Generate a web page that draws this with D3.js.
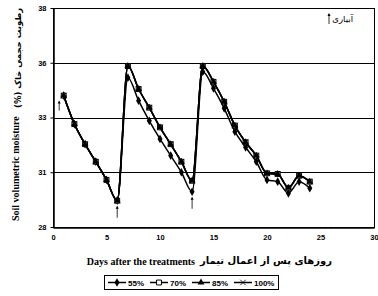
<!DOCTYPE html>
<html><head><meta charset="utf-8">
<script src="https://cdn.jsdelivr.net/npm/d3@7"></script>
<style>body{margin:0;background:#fff}svg{display:block}</style>
</head><body>
<svg id="c" width="378" height="296"></svg>
<script>
const days = [1,2,3,4,5,6,7,8,9,10,11,12,13,14,15,16,17,18,19,20,21,22,23,24];
const s55  = [34.0,32.7,31.78,30.98,30.15,29.2,34.82,33.77,32.85,32.02,31.26,30.5,29.61,35.09,34.33,33.42,32.35,31.64,30.98,30.15,30.07,29.54,30.07,29.77];
const s70  = [34.0,32.7,31.78,30.98,30.15,29.2,35.35,34.3,33.45,32.55,31.78,30.98,30.11,35.35,34.63,33.72,32.63,31.87,31.26,30.45,30.42,29.79,30.34,30.07];
const s85  = [34.0,32.7,31.78,30.98,30.15,29.2,35.35,34.3,33.45,32.55,31.78,30.98,30.11,35.35,34.63,33.72,32.63,31.87,31.26,30.45,30.42,29.79,30.34,30.07];
const s100 = [34.0,32.7,31.78,30.98,30.15,29.2,35.35,34.3,33.45,32.55,31.78,30.98,30.11,35.35,34.63,33.72,32.63,31.87,31.26,30.45,30.42,29.79,30.34,30.07];
const seriesNames = ["55%","70%","85%","100%"];
const irrigationDays = [1,6,13];
const xTicks = [0,5,10,15,20,25,30];
const yTickValues = [28,30.5,33,35.5,38];
const yTickLabels = ["28","31","33","36","38"];
const xTitleEn = "Days after the treatments";
const xTitleFa = "روزهای پس از اعمال تیمار";
const yTitleEn = "Soil volumetric moisture";
const yTitleFa = "(%) رطوبت حجمی خاک";
const irrigationLabel = "آبیاری";

const svg = d3.select("#c");
const L = 53, R = 374, T = 8, B = 227;
const x = d3.scaleLinear().domain([0,30]).range([L,R]);
const y = d3.scaleLinear().domain([28,38]).range([B,T]);

// gridlines
svg.append("g").selectAll("line").data(yTickValues.slice(1,4)).join("line")
  .attr("x1",L).attr("x2",R).attr("y1",d=>Math.round(y(d))+0.5).attr("y2",d=>Math.round(y(d))+0.5)
  .attr("stroke","#000").attr("stroke-width",1);
// frame
svg.append("rect").attr("x",L+0.5).attr("y",T+0.5).attr("width",R-L).attr("height",B-T)
  .attr("fill","none").attr("stroke","#000").attr("stroke-width",1);

// axes
const yAxis = d3.axisLeft(y).tickValues(yTickValues).tickSize(3).tickSizeOuter(0)
  .tickFormat((d,i)=>yTickLabels[i]);
const gy = svg.append("g").attr("transform",`translate(${L+0.5},0)`).call(yAxis);
gy.select(".domain").attr("stroke-width",1.5);
gy.selectAll("text").attr("font-family","Liberation Sans, Arial").attr("font-weight","bold")
  .attr("font-size","7.5px").attr("x",-7);
const xAxis = d3.axisBottom(x).tickValues(xTicks).tickSize(0).tickSizeOuter(0);
const gx = svg.append("g").attr("transform",`translate(0,${B+0.5})`).call(xAxis);
gx.select(".domain").attr("stroke-width",1.5);
gx.selectAll("text").attr("font-family","Liberation Sans, Arial").attr("font-weight","bold")
  .attr("font-size","7.5px").attr("dy","0.71em").attr("y",7);

// lines
const allSeries = [s55,s70,s85,s100];
const line = d3.line().x((d,i)=>x(days[i])).y(d=>y(d)).curve(d3.curveMonotoneX);
const symbols = [d3.symbolDiamond, d3.symbolSquare, d3.symbolTriangle, d3.symbolX];
const symSizes = [22, 24, 20, 22];
function drawMarker(g, k, cx, cy){
  const p = g.append("path").attr("transform",`translate(${cx},${cy})`)
    .attr("d", d3.symbol().type(symbols[k]).size(symSizes[k])());
  if(k===1) p.attr("fill","#fff").attr("stroke","#000").attr("stroke-width",1);
  else if(k===3) p.attr("fill","#000").attr("stroke","#000").attr("stroke-width",0.8);
  else p.attr("fill","#000");
}
allSeries.forEach((s,k)=>{
  const g = svg.append("g");
  g.append("path").datum(s).attr("d",line).attr("fill","none").attr("stroke","#000").attr("stroke-width",1.5);
  s.forEach((v,i)=>drawMarker(g,k,x(days[i]),y(v)));
});

// irrigation arrows
function arrow(g, ax, ytop, len){
  g.append("line").attr("x1",ax).attr("x2",ax).attr("y1",ytop+1).attr("y2",ytop+len).attr("stroke","#000").attr("stroke-width",0.8);
  g.append("path").attr("d",`M${ax-1.5},${ytop+3}L${ax},${ytop}L${ax+1.5},${ytop+3}Z`).attr("fill","#000");
}
const ga = svg.append("g");
irrigationDays.forEach((d,j)=>{
  const i = days.indexOf(d);
  const minY = Math.max(...allSeries.map(s=>y(s[i])));
  if(j===0) arrow(ga, x(d)-4.5, minY+5, 10);
  else arrow(ga, x(d), minY+5, 12);
});
// irrigation key
arrow(ga, 329, 13, 11);
svg.append("text").attr("x",353).attr("y",22).attr("text-anchor","end")
  .attr("font-family","DejaVu Sans").attr("font-size","8.5px").text(irrigationLabel);

// axis titles
svg.append("text").attr("x",195).attr("y",265).attr("text-anchor","end")
  .attr("font-family","Liberation Serif, Times New Roman").attr("font-weight","bold").attr("font-size","10px").text(xTitleEn);
svg.append("text").attr("x",200).attr("y",264).attr("text-anchor","start")
  .attr("font-family","DejaVu Sans").attr("font-weight","bold").attr("font-size","10px").text(xTitleFa);
svg.append("text").attr("transform","translate(19,221) rotate(-90)").attr("text-anchor","start")
  .attr("font-family","Liberation Serif, Times New Roman").attr("font-weight","bold").attr("font-size","10px").text(yTitleEn);
svg.append("text").attr("transform","translate(21,108) rotate(-90)").attr("text-anchor","start")
  .attr("font-family","DejaVu Sans").attr("font-weight","bold").attr("font-size","8.5px").text(yTitleFa);

// legend
const lg = svg.append("g");
lg.append("rect").attr("x",104.5).attr("y",275.5).attr("width",174).attr("height",14)
  .attr("fill","#fff").attr("stroke","#000").attr("stroke-width",1);
const legX = [108,150,192,234];
seriesNames.forEach((n,k)=>{
  const lx = legX[k], ly = 282.5;
  lg.append("line").attr("x1",lx).attr("x2",lx+18).attr("y1",ly).attr("y2",ly).attr("stroke","#000").attr("stroke-width",1.5);
  drawMarker(lg,k,lx+9,ly);
  lg.append("text").attr("x",lx+20).attr("y",ly+3).attr("font-family","Liberation Sans, Arial")
    .attr("font-weight","bold").attr("font-size","8px").text(n);
});
</script>
</body></html>
